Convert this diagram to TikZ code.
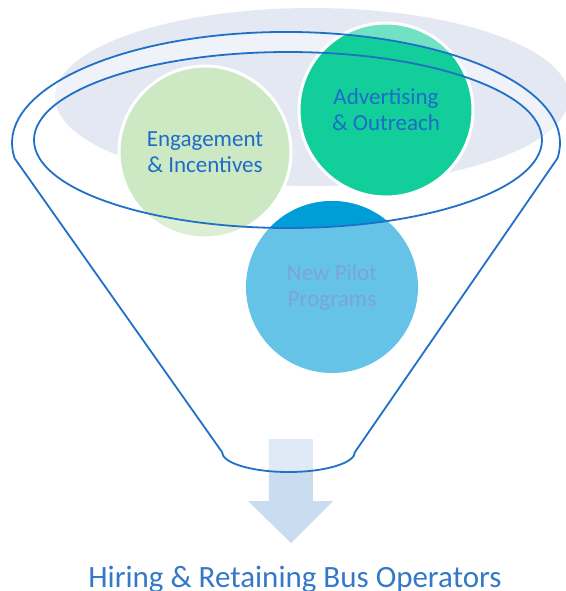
\documentclass[tikz,border=0pt]{standalone}
\usepackage{fontspec}
\setmainfont{Carlito}
\definecolor{funnelblue}{HTML}{2170C8}
\definecolor{textblue}{HTML}{1E6CC8}
\definecolor{titleblue}{HTML}{3478C8}
\definecolor{pilottext}{HTML}{7BA3DE}
\definecolor{greybg}{HTML}{E3E8F3}
\definecolor{engfill}{HTML}{CDE9C3}
\definecolor{advfill}{HTML}{11CE9A}
\definecolor{pilotfill}{HTML}{66C3E8}
\definecolor{pilotdark}{HTML}{009ED8}
\definecolor{arrowdark}{HTML}{CADDF0}
\definecolor{arrowlight}{HTML}{DEEAF6}
\tikzset{
  bubble/.style={draw=white, line width=1.5pt},
  funnel/.style={draw=funnelblue, line width=0.9pt},
  bubbletext/.style={align=center, text=textblue, font=\fontsize{11.5}{13}\selectfont}
}

\begin{document}
\begin{tikzpicture}[x=0.5pt,y=-0.5pt]
\useasboundingbox (0,0) rectangle (566,591);
\coordinate (G) at (312,97);
\coordinate (O) at (286,143);
\coordinate (I) at (288,140);
\coordinate (L) at (14.7,158.4);
\coordinate (R) at (557.3,158.4);
\coordinate (y1) at (222,452);
\coordinate (y2) at (355,452);
\coordinate (x1) at (205,152);
\coordinate (x2) at (386,110);
\coordinate (x3) at (332,287);

\fill[greybg] (G) ellipse [x radius=257, y radius=89];
\begin{scope}
\clip (G) ellipse [x radius=257, y radius=89];
\fill[white, fill opacity=0.45, even odd rule]
     (O) ellipse [x radius=274, y radius=111] (I) ellipse [x radius=254, y radius=88];
\end{scope}

\fill[engfill] (x1) circle (86);
\begin{scope}
\clip (x1) circle (86);
\fill[white, fill opacity=0.3, even odd rule]
     (0,0) rectangle (566,591) (I) ellipse [x radius=254, y radius=88];
\end{scope}
\draw[bubble] (x1) circle (86);

\fill[advfill] (x2) circle (87);
\begin{scope}
\clip (x2) circle (87);
\fill[white, fill opacity=0.4, even odd rule]
     (0,0) rectangle (566,591) (O) ellipse [x radius=274, y radius=111];
\end{scope}
\draw[bubble] (x2) circle (87);

\fill[pilotfill] (x3) circle (86);
\begin{scope}
\clip (x3) circle (86);
\fill[pilotdark] (I) ellipse [x radius=254, y radius=88];
\end{scope}

\fill[arrowdark] (269,439) -- (313,439) -- (313,501) -- (333,501)
     -- (291,543) -- (248,501) -- (269,501) -- cycle;
\begin{scope}
\clip (0,0) -- (566,0) -- (566,452) -- (y2)
     arc [start angle=0, end angle=180, x radius=66.5, y radius=20] -- (0,452) -- cycle;
\fill[arrowlight] (269,439) -- (313,439) -- (313,501) -- (269,501) -- cycle;
\end{scope}

\node[bubbletext] (eng) at (x1) {Engagement\\\& Incentives};
\node[bubbletext] (adv) at (x2) {Advertising\\\& Outreach};
\node[bubbletext, text=pilottext] (pilot) at (x3) {New Pilot\\Programs};

\draw[funnel] (I) ellipse [x radius=254, y radius=88];
\draw[funnel] (y1) -- (L) arc [start angle=172, end angle=368, x radius=274, y radius=111]
     -- (y2) arc [start angle=0, end angle=180, x radius=66.5, y radius=20] -- cycle;

\node[anchor=base, text=titleblue, font=\fontsize{15.5}{18}\selectfont, inner sep=0pt]
     (title) at (295,587) {Hiring \& Retaining Bus Operators};
\end{tikzpicture}
\end{document}
